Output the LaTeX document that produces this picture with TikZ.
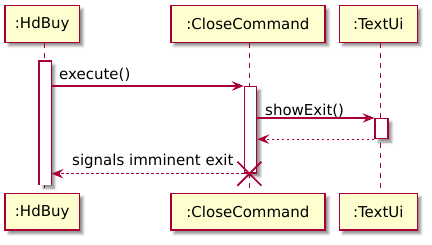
\documentclass[tikz,border=0pt]{standalone}
\usepackage{fontspec}
\setmainfont{DejaVu Sans}
\usetikzlibrary{arrows.meta,shadows.blur}
\definecolor{umlred}{HTML}{A80036}
\definecolor{umlfill}{HTML}{FEFECE}
\tikzset{
  soft/.style={blur shadow={shadow xshift=3.5pt,shadow yshift=-3.5pt,shadow blur radius=2.5pt,shadow opacity=45}},
  part/.style={draw=umlred,fill=umlfill,line width=1.5pt,minimum height=36.6pt,inner sep=0pt,
    font=\fontsize{15}{18}\selectfont,soft},
  act/.style={draw=umlred,fill=white,line width=1.2pt,inner sep=0pt,anchor=north,soft},
  life/.style={umlred,line width=1pt,dash pattern=on 5pt off 5pt},
  msg/.style={umlred,line width=1.1pt,-{Stealth[length=12pt,width=9.5pt,inset=4.5pt]}},
  ret/.style={msg,dash pattern=on 2.5pt off 2.5pt},
  lbl/.style={anchor=base west,inner sep=0pt,font=\fontsize{15}{18}\selectfont},
}
\begin{document}
\begin{tikzpicture}[x=1pt,y=-1pt]
\useasboundingbox (0,0) rectangle (432,245);

% participants, head and foot
\node[part,minimum width=74.3pt] (hdT) at (42.2,24) {:HdBuy};
\node[part,minimum width=154.3pt] (ccT) at (247.9,24) {:CloseCommand};
\node[part,minimum width=78pt] (tuT) at (378.3,24) {:TextUi};
\node[part,minimum width=74.3pt] (hdB) at (42.2,211.9) {:HdBuy};
\node[part,minimum width=154.3pt] (ccB) at (247.9,211.9) {:CloseCommand};
\node[part,minimum width=78pt] (tuB) at (378.3,211.9) {:TextUi};

% lifelines
\coordinate (hdL) at (44,0);
\coordinate (ccL) at (249.4,0);
\coordinate (tuL) at (380.3,0);
\draw[life] (hdL |- hdT.south) -- (hdL |- hdB.north);
\draw[life] (ccL |- ccT.south) -- (ccL |- ccB.north);
\draw[life] (tuL |- tuT.south) -- (tuL |- tuB.north);

% activation bars
\node[act,draw=none,minimum width=11.3pt,minimum height=123pt] (a1) at (45.3,61) {};
\draw[umlred,line width=1.2pt] (a1.south west) -- (a1.north west) -- (a1.north east) -- (a1.south east);
\node[act,minimum width=12.4pt,minimum height=86.5pt] (a2) at (250.5,86) {};
\node[act,minimum width=13pt,minimum height=20pt] (a3) at (381.5,118) {};

% messages
\draw[msg] (a1.east |- a2.north) -- (a2.north west);
\node[lbl] (l1) at (59,80) {execute()};
\draw[msg] (a2.east |- a3.north) -- (a3.north west);
\node[lbl] (l2) at (265,115.5) {showExit()};
\draw[ret] (a3.south west) -- (a2.east |- a3.south);
\draw[ret] (a2.south west) -- (a1.east |- a2.south);
\node[lbl] (l3) at (72,166) {signals imminent exit};

% destruction mark
\coordinate (x) at (ccL |- a2.south);
\draw[umlred,line width=1.7pt] ([shift={(-12,-12)}]x) -- ([shift={(12,12)}]x)
  ([shift={(-12,12)}]x) -- ([shift={(12,-12)}]x);
\end{tikzpicture}
\end{document}
